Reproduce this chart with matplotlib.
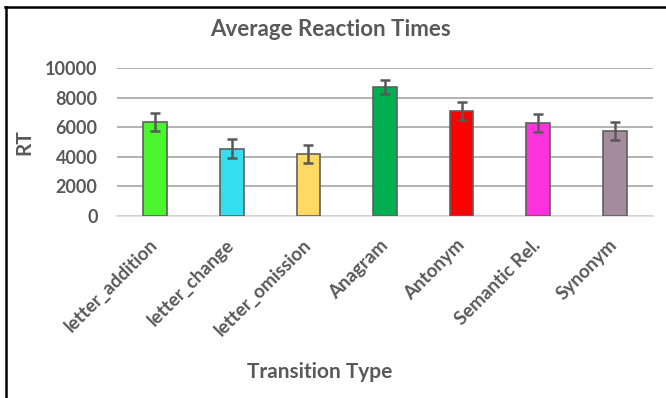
import matplotlib.pyplot as plt
from matplotlib.lines import Line2D

categories = ["letter_addition", "letter_change", "letter_omission", "Anagram",
              "Antonym", "Semantic Rel.", "Synonym"]
rt_means = [6350, 4560, 4200, 8720, 7080, 6280, 5740]
rt_errors = [610, 620, 600, 500, 600, 600, 620]
bar_colors = ["#4cf62f", "#35ddef", "#ffd966", "#00b050",
              "#ff0000", "#ff33dd", "#a48c9e"]
yticks = [0, 2000, 4000, 6000, 8000, 10000]

plt.rcParams['font.family'] = ['Lato', 'DejaVu Sans']
txt = "#595959"

fig = plt.figure(figsize=(6.66, 3.98), dpi=100, facecolor="#ffffff")
ax = fig.add_axes([117 / 666, 1 - 216 / 398, 536 / 666, 148 / 398])

x = range(len(categories))
ax.bar(x, rt_means, width=0.31, color=bar_colors, edgecolor="#5f5f5f",
       linewidth=1.2, zorder=3)
ax.errorbar(x, rt_means, yerr=rt_errors, fmt="none", ecolor="#595959",
            elinewidth=1.8, capsize=3.5, capthick=1.8, zorder=4)

ax.set_xlim(-0.5, len(categories) - 0.5)
ax.set_ylim(0, 10000)
ax.set_yticks(yticks)
ax.grid(axis="y", color="#a6a6a6", linewidth=1.2, zorder=0)
for s in ["top", "right", "left"]:
    ax.spines[s].set_visible(False)
ax.spines["bottom"].set_color("#d9d9d9")
ax.spines["bottom"].set_linewidth(1.2)
ax.tick_params(axis="both", length=0, colors=txt, labelsize=13)
ax.tick_params(axis="y", pad=14)
ax.tick_params(axis="x", pad=19)
ax.set_xticks(list(x))
ax.set_xticklabels(categories, rotation=45, ha="right", va="center",
                   rotation_mode="anchor", fontweight="bold", fontsize=13.5)
for lab in ax.get_yticklabels():
    lab.set_fontweight("bold")

ax.set_ylabel("RT", fontsize=15, fontweight="bold", color=txt, labelpad=8)
fig.text(320 / 666, 1 - 372 / 398, "Transition Type", ha="center", va="center",
         fontsize=15, fontweight="bold", color=txt)
fig.text(331 / 666, 1 - 30 / 398, "Average Reaction Times", ha="center",
         va="center", fontsize=16, fontweight="bold", color=txt)

# outer frame (top and left only)
fig.add_artist(Line2D([5 / 666, 1], [1 - 7 / 398, 1 - 7 / 398],
                      color="#000000", linewidth=1.8, transform=fig.transFigure))
fig.add_artist(Line2D([6 / 666, 6 / 666], [0, 1 - 7 / 398],
                      color="#000000", linewidth=1.8, transform=fig.transFigure))

fig.savefig("out.png", dpi=100)
